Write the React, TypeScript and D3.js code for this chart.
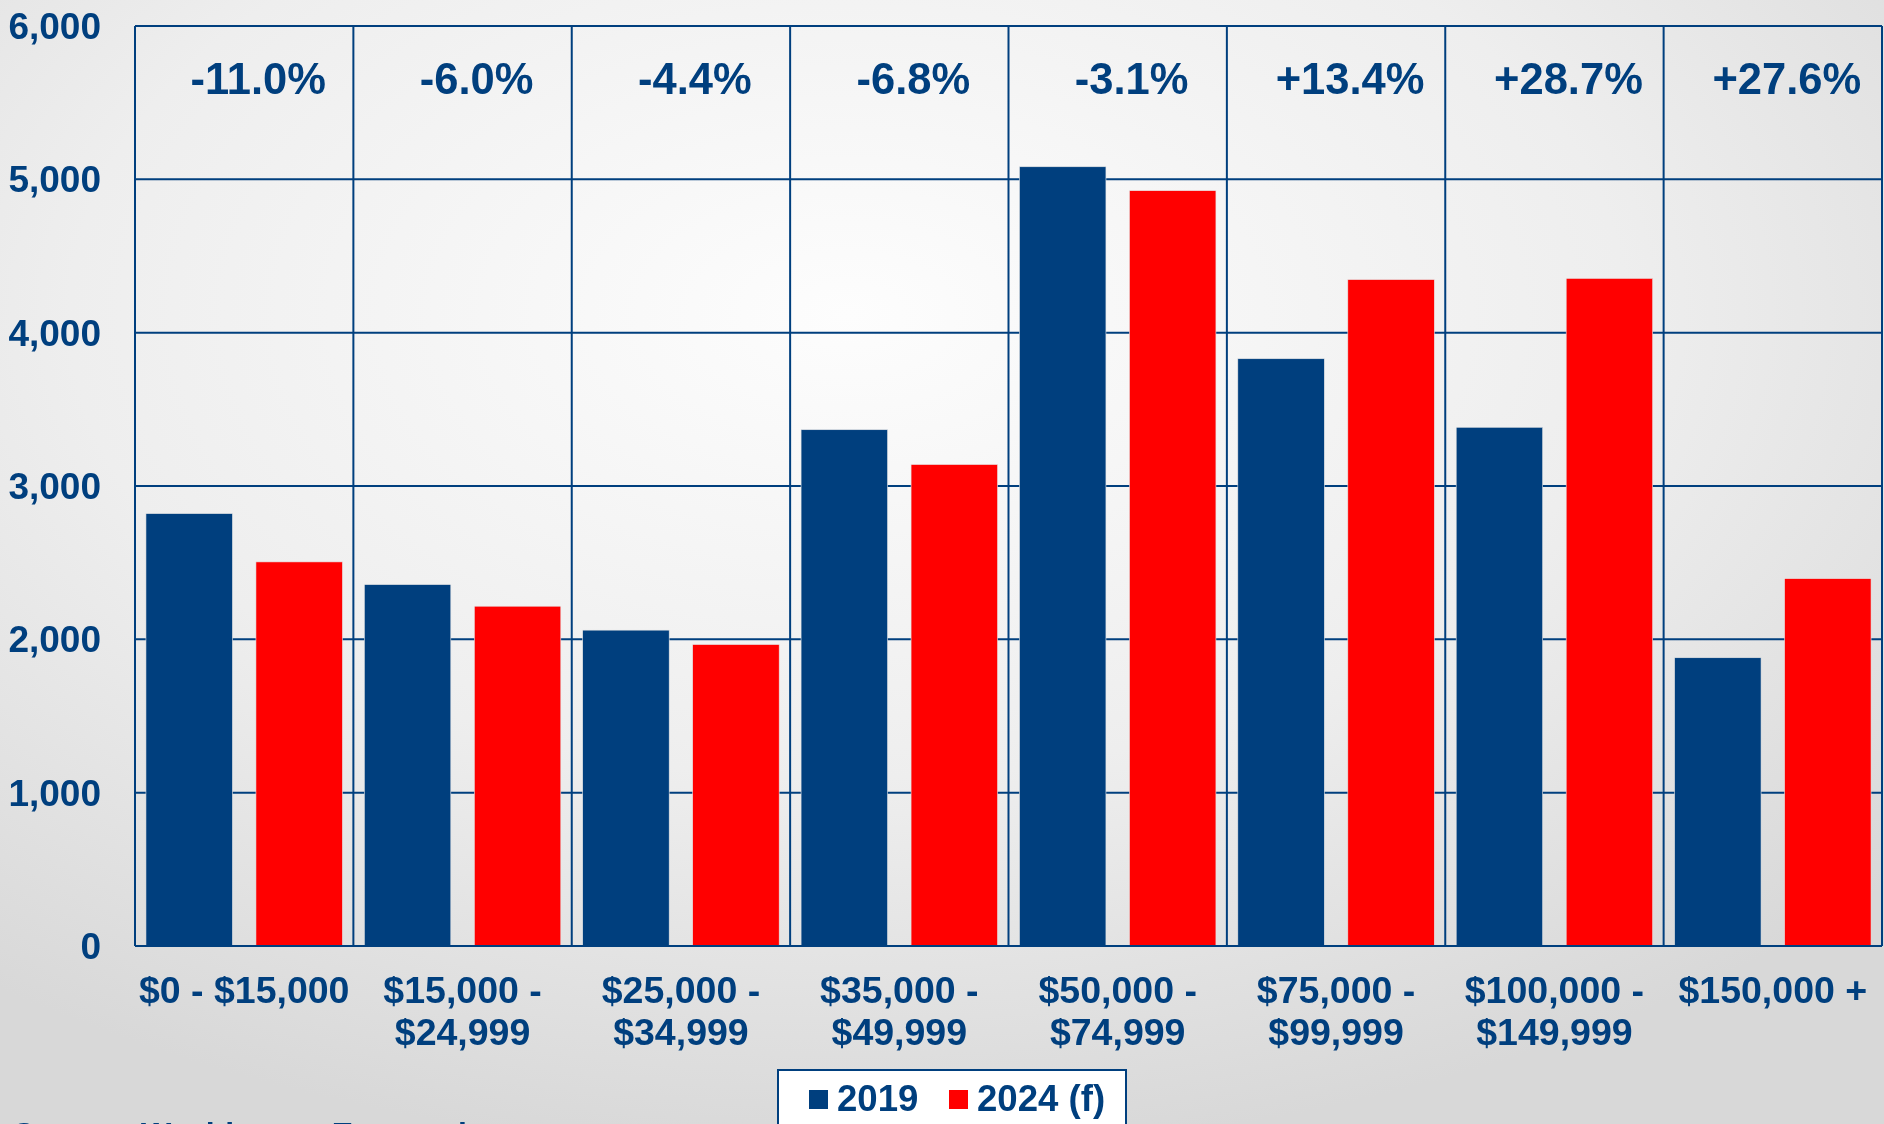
import React from "react";
import * as d3 from "d3";

const categories = [
  "$0 - $15,000",
  "$15,000 - $24,999",
  "$25,000 - $34,999",
  "$35,000 - $49,999",
  "$50,000 - $74,999",
  "$75,000 - $99,999",
  "$100,000 - $149,999",
  "$150,000 +",
];
const categoryLines = [
  ["$0 - $15,000"],
  ["$15,000 -", "$24,999"],
  ["$25,000 -", "$34,999"],
  ["$35,000 -", "$49,999"],
  ["$50,000 -", "$74,999"],
  ["$75,000 -", "$99,999"],
  ["$100,000 -", "$149,999"],
  ["$150,000 +"],
];
const series = ["2019", "2024 (f)"];
const values2019 = [2820, 2357, 2060, 3367, 5082, 3830, 3383, 1880];
const values2024 = [2505, 2216, 1966, 3140, 4926, 4346, 4354, 2396];
const changeLabels = ["-11.0%", "-6.0%", "-4.4%", "-6.8%", "-3.1%", "+13.4%", "+28.7%", "+27.6%"];
const yTicks = [0, 1000, 2000, 3000, 4000, 5000, 6000];
const seriesColors = ["#003F7E", "#FF0000"];
const sourceText = "Source: Washington Economics";

const W = 1884;
const H = 1124;
const NAVY = "#003F7E";
const FONT = "'Liberation Sans', Arial, Helvetica, sans-serif";

export default function App() {
  const left = 135;
  const right = 1882;
  const top = 26;
  const bottom = 946;

  const x = d3.scaleBand<string>().domain(categories).range([left, right]).padding(0);
  const xs = d3
    .scaleBand<string>()
    .domain(series)
    .range([0, x.bandwidth()])
    .paddingInner(0.2136)
    .paddingOuter(0.0995);
  const y = d3.scaleLinear().domain([0, 6000]).range([bottom, top]);
  const fmt = d3.format(",");

  const allValues = [values2019, values2024];

  return (
    <div style={{ position: "fixed", left: 0, top: 0, width: W, height: H, overflow: "hidden" }}>
      <svg width={W} height={H} style={{ display: "block", fontFamily: FONT }}>
        <defs>
          <radialGradient id="bg" cx="45%" cy="28%" r="75%" fx="45%" fy="28%">
            <stop offset="0%" stopColor="#FDFDFD" />
            <stop offset="55%" stopColor="#EEEEEE" />
            <stop offset="100%" stopColor="#D8D8D8" />
          </radialGradient>
        </defs>
        <rect x={0} y={0} width={W} height={H} fill="url(#bg)" />

        {/* horizontal gridlines */}
        {yTicks.map((t) => (
          <line key={"h" + t} x1={left} x2={right} y1={y(t)} y2={y(t)} stroke={NAVY} strokeWidth={2} />
        ))}
        {/* vertical gridlines at category boundaries */}
        {categories.map((c) => (
          <line
            key={"v" + c}
            x1={x(c)!}
            x2={x(c)!}
            y1={top}
            y2={bottom}
            stroke={NAVY}
            strokeWidth={2}
          />
        ))}
        <line x1={right} x2={right} y1={top} y2={bottom} stroke={NAVY} strokeWidth={2} />

        {/* bars */}
        {categories.map((c, i) =>
          series.map((s, j) => {
            const v = allValues[j][i];
            return (
              <rect
                key={c + s}
                x={x(c)! + xs(s)!}
                y={y(v)}
                width={xs.bandwidth()}
                height={y(0) - y(v)}
                fill={seriesColors[j]}
                stroke="#E6E6E6"
                strokeWidth={0.6}
              />
            );
          })
        )}
        <line x1={left} x2={right} y1={bottom} y2={bottom} stroke={NAVY} strokeWidth={2} />

        {/* y labels */}
        {yTicks.map((t) => (
          <text
            key={"yl" + t}
            x={101}
            y={y(t) + 13}
            textAnchor="end"
            fontSize={37}
            fontWeight="bold"
            fill={NAVY}
          >
            {fmt(t)}
          </text>
        ))}

        {/* percent change labels */}
        {categories.map((c, i) => (
          <text
            key={"p" + c}
            x={x(c)! + x.bandwidth() / 2 + 14}
            y={94}
            textAnchor="middle"
            fontSize={43.5}
            fontWeight="bold"
            fill={NAVY}
          >
            {changeLabels[i]}
          </text>
        ))}

        {/* category labels */}
        {categories.map((c, i) => (
          <text
            key={"xl" + c}
            textAnchor="middle"
            fontSize={37.5}
            fontWeight="bold"
            fill={NAVY}
          >
            {categoryLines[i].map((ln, k) => (
              <tspan key={k} x={x(c)! + x.bandwidth() / 2} y={1003 + k * 42}>
                {ln}
              </tspan>
            ))}
          </text>
        ))}

        {/* legend */}
        <rect x={778} y={1070} width={348} height={80} fill="#FFFFFF" stroke={NAVY} strokeWidth={2} />
        {series.map((s, j) => {
          const lx = j === 0 ? 809 : 949;
          return (
            <g key={"lg" + s}>
              <rect x={lx} y={1090} width={19} height={19} fill={seriesColors[j]} />
              <text x={lx + 28} y={1111} fontSize={36.6} fontWeight="bold" fill={NAVY}>
                {s}
              </text>
            </g>
          );
        })}

        {/* source */}
        <text x={13} y={1145} fontSize={32} fontWeight="bold" fill={NAVY}>
          {sourceText}
        </text>
      </svg>
    </div>
  );
}
